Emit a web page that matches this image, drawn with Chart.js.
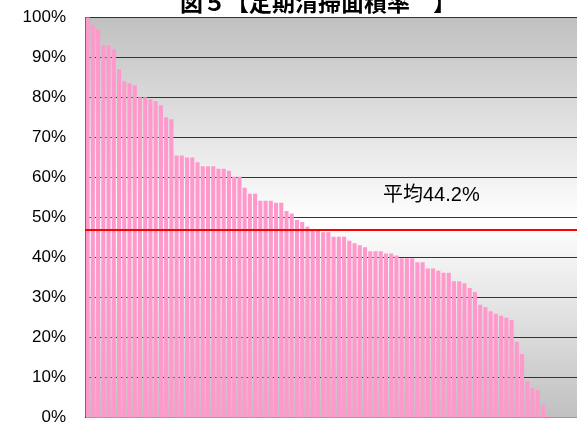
<!DOCTYPE html>
<html>
<head>
<meta charset="utf-8">
<script src="https://cdn.jsdelivr.net/npm/chart.js@4"></script>
<style>
  html, body { margin: 0; padding: 0; background: #fff; overflow: hidden; }
  #wrap { position: relative; top: -12px; width: 577px; height: 459px; }
</style>
</head>
<body>
<div id="wrap"><canvas id="areaChart"></canvas></div>
<script>
// Chart data
const chartTitle = '図５【定期清掃面積率　】';
const avgLabel = '平均44.2%';
const avgLine = 46.9;   // where the red line sits on the picture
const yTicks = [0, 10, 20, 30, 40, 50, 60, 70, 80, 90, 100];

const rates = [
  100, 98, 97, 93, 93, 92, 87, 84, 83.5, 83, 80, 80, 79.5, 79, 78, 75, 74.5, 65.5, 65.5, 65, 65,
  63.8, 62.8, 62.8, 62.8, 62.2, 62.2, 61.7,
  60.2, 60.2, 57.4, 55.9, 55.9, 54.2, 54.2, 54.2, 53.7, 53.7, 51.6, 51, 49.4, 48.9, 47.7,
  47.1, 47.1, 46.3, 46.3, 45.2, 45.2, 45.2, 44.2, 43.6, 43.1, 42.6, 41.6, 41.6, 41.6,
  41, 41, 40.5, 39.8, 39.8, 39.8, 38.8, 38.8, 37.3, 37.3, 36.7, 36.2, 36.2, 34.1, 34.1,
  33.6, 32.4, 31.4, 28.2, 27.6, 26.6, 26, 25.5, 25, 24.4, 19, 15.9, 9.1, 7.4, 6.9, 3.2, 0.5
];
// one empty slot per category, plus a few spare ones on the right
const categories = Array.from({ length: 94 }, () => '');

// gray-white-gray backdrop behind the plot
const backdrop = {
  id: 'backdrop',
  beforeDraw(chart) {
    const { ctx, chartArea: a } = chart;
    const g = ctx.createLinearGradient(0, a.top, 0, a.bottom);
    g.addColorStop(0, '#c0c0c0');
    g.addColorStop(0.51, '#ffffff');
    g.addColorStop(1, '#c0c0c0');
    ctx.save();
    ctx.fillStyle = g;
    ctx.fillRect(a.left, a.top, a.right - a.left, a.bottom - a.top);
    ctx.restore();
  }
};

// red average line, its label and the title
const overlay = {
  id: 'overlay',
  afterDatasetsDraw(chart) {
    const { ctx, chartArea: a, scales } = chart;
    const y = scales.y.getPixelForValue(avgLine);
    ctx.save();
    ctx.strokeStyle = '#ff0000';
    ctx.lineWidth = 2;
    ctx.beginPath();
    ctx.moveTo(a.left, y);
    ctx.lineTo(a.right, y);
    ctx.stroke();

    ctx.fillStyle = '#000';
    ctx.font = '20px "Liberation Sans", "Noto Sans CJK JP"';
    ctx.textBaseline = 'middle';
    ctx.textAlign = 'left';
    ctx.fillText(avgLabel, a.left + 298, scales.y.getPixelForValue(55.5));

    ctx.font = 'bold 23px "Noto Sans CJK JP"';
    ctx.textAlign = 'center';
    ctx.fillText(chartTitle, a.left + 233, a.top - 15);
    ctx.restore();
  }
};

new Chart(document.getElementById('areaChart'), {
  type: 'bar',
  data: {
    labels: categories,
    datasets: [{
      data: rates,
      backgroundColor: '#ff99cc',
      borderWidth: 0,
      barPercentage: 0.78,
      categoryPercentage: 1.0
    }]
  },
  options: {
    responsive: true,
    maintainAspectRatio: false,
    animation: false,
    layout: { padding: { top: 4, left: 18, right: 0, bottom: 0 } },
    plugins: {
      legend: { display: false },
      tooltip: { enabled: false }
    },
    scales: {
      x: { display: false },
      y: {
        min: 0,
        max: 100,
        afterFit(s) { s.width = 67; },
        afterBuildTicks(s) { s.ticks = yTicks.map(v => ({ value: v })); },
        border: { display: true, color: '#333', width: 1 },
        grid: {
          drawTicks: false,
          color: c => (c.tick.value === 0 ? '#999' : '#333'),
          lineWidth: 1
        },
        ticks: {
          padding: 19,
          color: '#000',
          font: { family: '"Liberation Sans", Arial', size: 17 },
          callback: v => v + '%'
        }
      }
    }
  },
  plugins: [backdrop, overlay]
});
</script>
</body>
</html>
